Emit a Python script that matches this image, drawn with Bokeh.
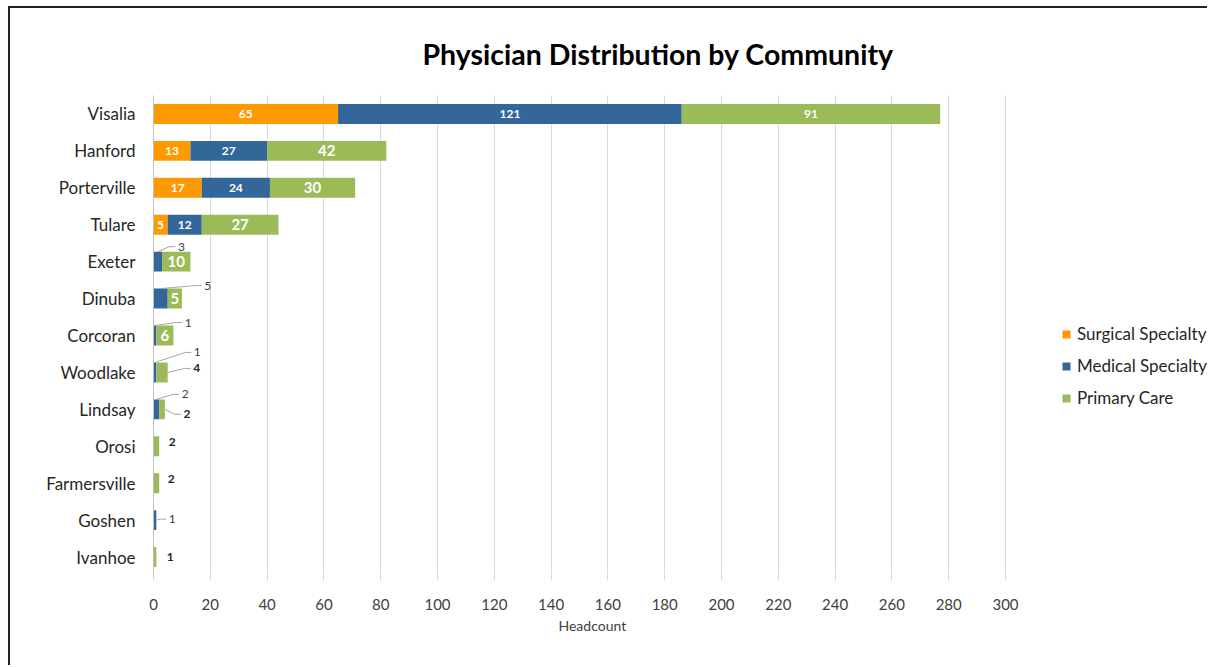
from bokeh.plotting import figure
from bokeh.models import (Range1d, FixedTicker, Legend, LegendItem, ColumnDataSource, Title)
from bokeh.core.properties import value
from bokeh.embed import file_html
from bokeh.resources import INLINE

# ---------------- data ----------------
communities = ["Visalia", "Hanford", "Porterville", "Tulare", "Exeter", "Dinuba",
               "Corcoran", "Woodlake", "Lindsay", "Orosi", "Farmersville", "Goshen", "Ivanhoe"]
surgical = [65, 13, 17, 5, 0, 0, 0, 0, 0, 0, 0, 0, 0]
medical = [121, 27, 24, 12, 3, 5, 1, 1, 2, 0, 0, 1, 0]
primary = [91, 42, 30, 27, 10, 5, 6, 4, 2, 2, 2, 0, 1]
series_names = ["Surgical Specialty", "Medical Specialty", "Primary Care"]
x_ticks = list(range(0, 301, 20))

# ---------------- styling ----------------
colors = ["#FF9900", "#336699", "#9BBB59"]
FONT = "Lato"
FRAME_W = 1056          # frame spans to the right edge so the legend fits inside it
AXIS_W = 852            # pixel width of the 0..300 value axis
X_MAX = 300
PXX = AXIS_W / X_MAX    # pixels per headcount unit
PXY = 480 / 13.0        # pixels per category band
BAR_H = 0.54

n = len(communities)
ypos = [n - 1 - i for i in range(n)]
series = [surgical, medical, primary]

p = figure(width=1199, height=659, output_backend="svg", toolbar_location=None,
           x_range=Range1d(0, X_MAX * FRAME_W / AXIS_W), y_range=Range1d(-0.5, n - 0.5),
           min_border_left=143, min_border_right=0, min_border_top=87,
           min_border_bottom=92, title="Physician Distribution by Community")
p.styles = {"margin-left": "8px", "margin-top": "6px",
            "border-left": "2px solid #222222", "border-top": "2px solid #222222"}
p.outline_line_color = None
p.background_fill_color = "white"
p.border_fill_color = "white"

p.title.text_font = FONT
p.title.text_font_size = "28.5px"
p.title.text_font_style = "bold"
p.title.text_color = "black"
p.title.align = "left"
p.title.offset = 269
p.title.standoff = 50

# stacked bars
lefts = [0] * n
renderers = []
seg_bounds = []
for k, vals in enumerate(series):
    rights = [l + v for l, v in zip(lefts, vals)]
    src = ColumnDataSource(dict(y=ypos, left=lefts, right=rights))
    r = p.hbar(y="y", left="left", right="right", height=BAR_H, source=src,
               fill_color=colors[k], line_color=None)
    renderers.append(r)
    seg_bounds.append((list(lefts), rights))
    lefts = rights

# inside labels
inside_thr = [5, 10, 5]
for k, vals in enumerate(series):
    for i, v in enumerate(vals):
        if v >= inside_thr[k]:
            l, r = seg_bounds[k][0][i], seg_bounds[k][1][i]
            size = "15px" if (k == 2 and v < 60) else "12px"
            p.text(x=[(l + r) / 2], y=[ypos[i]], text=[str(v)], text_color="white",
                   text_font=value(FONT), text_font_style="bold", text_font_size=size,
                   text_align="center", text_baseline="middle")

# outside labels: (community, series index, dx px from segment end, dy px, leader kind)
outside = [("Exeter", 1, 19.5, -15, "top"), ("Dinuba", 1, 40, -13, "top"),
           ("Corcoran", 1, 32, -13, "top"), ("Woodlake", 1, 41, -20, "top"),
           ("Woodlake", 2, 29, -4, "side"), ("Lindsay", 1, 26, -15, "top"),
           ("Lindsay", 2, 22, 5, "side"), ("Orosi", 2, 13, -4, None),
           ("Farmersville", 2, 12, -4, None), ("Goshen", 1, 16, -1, "side"),
           ("Ivanhoe", 2, 14, 0, None)]
for name, k, dx, dy, kind in outside:
    i = communities.index(name)
    l, r = seg_bounds[k][0][i], seg_bounds[k][1][i]
    val = series[k][i]
    lx = r + dx / PXX
    ly = ypos[i] - dy / PXY
    p.text(x=[lx], y=[ly], text=[str(val)],
           text_color="#262626" if k == 2 else "#404040",
           text_font=value(FONT), text_font_style="bold" if k == 2 else "normal",
           text_font_size="12px", text_align="center", text_baseline="middle")
    if kind is not None:
        if kind == "top":
            sx, sy = (l + r) / 2, ypos[i] + BAR_H / 2
        else:
            sx, sy = r, ypos[i]
        ex = lx - 6 / PXX
        elx = lx - 12 / PXX
        p.line(x=[sx, elx, ex], y=[sy, ly, ly], line_color="#A6A6A6", line_width=1)

# axes
p.xaxis.ticker = FixedTicker(ticks=x_ticks)
p.xaxis.axis_line_color = None
p.xaxis.major_tick_line_color = "#D9D9D9"
p.xaxis.major_tick_out = 5
p.xaxis.major_tick_in = 0
p.xaxis.minor_tick_line_color = None
p.xaxis.major_label_text_font = FONT
p.xaxis.major_label_text_font_size = "15px"
p.xaxis.major_label_text_color = "#404040"
p.xaxis.major_label_standoff = 18

xlabel = Title(text="Headcount", align="left", offset=405, standoff=4,
               text_font=FONT, text_font_size="14px", text_font_style="normal",
               text_color="#404040")
p.add_layout(xlabel, "below")

p.yaxis.ticker = FixedTicker(ticks=ypos)
p.yaxis.major_label_overrides = {y: c for y, c in zip(ypos, communities)}
p.yaxis.axis_line_color = "#BFBFBF"
p.yaxis.major_tick_line_color = None
p.yaxis.minor_tick_line_color = None
p.yaxis.major_label_text_font = FONT
p.yaxis.major_label_text_font_size = "17px"
p.yaxis.major_label_text_color = "#262626"
p.yaxis.major_label_standoff = 12

p.xgrid.ticker = FixedTicker(ticks=x_ticks)
p.xgrid.grid_line_color = "#D9D9D9"
p.ygrid.grid_line_color = None

items = [LegendItem(label=s, renderers=[r]) for s, r in zip(series_names, renderers)]
legend = Legend(items=items, location=(908, 167), orientation="vertical",
                border_line_color=None, background_fill_alpha=0, label_text_font=FONT,
                label_text_font_size="17px", label_text_color="#262626",
                glyph_width=10, glyph_height=10, label_height=20,
                spacing=11, label_standoff=6, padding=0, margin=0)
p.add_layout(legend, "center")

open("out.html", "w").write(file_html(p, INLINE))
